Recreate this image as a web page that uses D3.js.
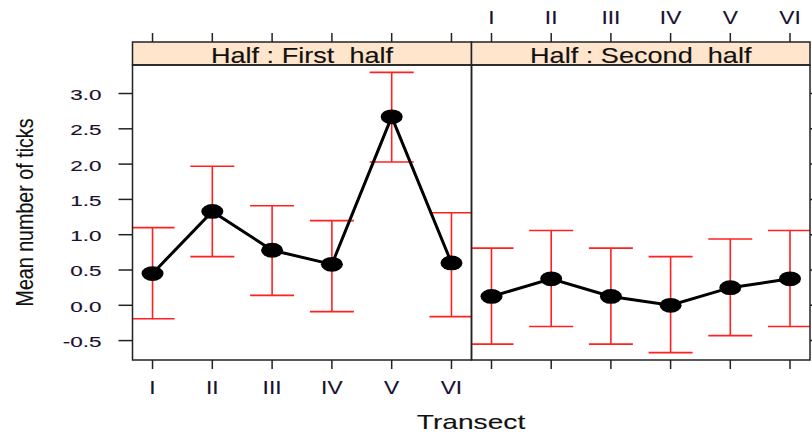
<!DOCTYPE html>
<html>
<head>
<meta charset="utf-8">
<script src="https://cdn.jsdelivr.net/npm/d3@7"></script>
<style>
  body { margin: 0; background: #fff; }
  svg { display: block; font-family: "Liberation Sans", Arial, sans-serif; }
  text { stroke-width: 0.12px; }
</style>
</head>
<body>
<svg id="chart" width="812" height="434"></svg>
<script>
// data
var transects = ["I", "II", "III", "IV", "V", "VI"];
var halves = ["First  half", "Second  half"];
var meanFirst = [0.45, 1.33, 0.78, 0.58, 2.67, 0.60];
var lowerFirst = [-0.19, 0.69, 0.14, -0.09, 2.03, -0.16];
var upperFirst = [1.10, 1.97, 1.41, 1.20, 3.30, 1.31];
var meanSecond = [0.125, 0.375, 0.125, 0.0, 0.25, 0.375];
var lowerSecond = [-0.55, -0.30, -0.55, -0.67, -0.43, -0.30];
var upperSecond = [0.81, 1.06, 0.81, 0.69, 0.94, 1.06];
var yTicks = [-0.5, 0, 0.5, 1, 1.5, 2, 2.5, 3];

var series = [
  {name: halves[0], mean: meanFirst, lo: lowerFirst, hi: upperFirst},
  {name: halves[1], mean: meanSecond, lo: lowerSecond, hi: upperSecond}
];

var svg = d3.select("#chart");
var panelTop = 65, panelBottom = 360, stripTop = 42;
var edges = [132.5, 471.5, 810];

var y = d3.scaleLinear().domain([-0.775, 3.404]).range([panelBottom, panelTop]);

// the picture is stretched sideways, so text gets widened to match
function stretch(sel, k) {
  sel.each(function() {
    var w = this.getComputedTextLength();
    d3.select(this).attr("textLength", w * k).attr("lengthAdjust", "spacingAndGlyphs");
  });
}

series.forEach(function(s, p) {
  var x0 = edges[p], x1 = edges[p + 1];
  var x = d3.scalePoint().domain(transects).range([x0, x1]).padding(0.335);
  var g = svg.append("g");

  var clipId = "clip" + p;
  svg.append("clipPath").attr("id", clipId)
    .append("rect").attr("x", x0).attr("y", panelTop).attr("width", x1 - x0).attr("height", panelBottom - panelTop);

  var plot = g.append("g").attr("clip-path", "url(#" + clipId + ")");
  var rows = transects.map(function(t, i) {
    return {t: t, m: s.mean[i], lo: s.lo[i], hi: s.hi[i]};
  });

  // error bars
  var eb = plot.selectAll(".eb").data(rows).enter().append("g")
    .style("stroke", "#ff2020").style("stroke-width", 1.6).style("fill", "none");
  eb.append("line")
    .attr("x1", function(d) { return x(d.t); }).attr("x2", function(d) { return x(d.t); })
    .attr("y1", function(d) { return y(d.lo); }).attr("y2", function(d) { return y(d.hi); });
  eb.append("line")
    .attr("x1", function(d) { return x(d.t) - 22; }).attr("x2", function(d) { return x(d.t) + 22; })
    .attr("y1", function(d) { return y(d.hi); }).attr("y2", function(d) { return y(d.hi); });
  eb.append("line")
    .attr("x1", function(d) { return x(d.t) - 22; }).attr("x2", function(d) { return x(d.t) + 22; })
    .attr("y1", function(d) { return y(d.lo); }).attr("y2", function(d) { return y(d.lo); });

  // mean line and points
  plot.append("path").datum(rows)
    .attr("d", d3.line().x(function(d) { return x(d.t); }).y(function(d) { return y(d.m); }))
    .style("fill", "none").style("stroke", "#000").style("stroke-width", 3);
  plot.selectAll(".pt").data(rows).enter().append("ellipse")
    .attr("cx", function(d) { return x(d.t); }).attr("cy", function(d) { return y(d.m); })
    .attr("rx", 11).attr("ry", 7.4).style("fill", "#000");

  // ticks top and bottom
  var tk = g.append("g").style("stroke", "#222").style("stroke-width", 1.5);
  tk.selectAll(".tb").data(transects).enter().append("line")
    .attr("x1", function(d) { return x(d); }).attr("x2", function(d) { return x(d); })
    .attr("y1", panelBottom).attr("y2", panelBottom + 9);
  tk.selectAll(".tt").data(transects).enter().append("line")
    .attr("x1", function(d) { return x(d); }).attr("x2", function(d) { return x(d); })
    .attr("y1", stripTop).attr("y2", stripTop - 9);

  // tick labels: bottom on the first panel, top on the second
  var lab = g.selectAll(".xl").data(transects).enter().append("text")
    .attr("x", function(d) { return x(d); })
    .attr("y", p === 0 ? 393.5 : 24)
    .attr("text-anchor", "middle")
    .style("font-size", "17.5px").style("fill", "#1a1030").style("stroke", "#1a1030")
    .text(function(d) { return d; });
  stretch(lab, 1.3);

  // strip
  g.append("rect").attr("x", x0).attr("y", stripTop).attr("width", x1 - x0).attr("height", panelTop - stripTop)
    .style("fill", "#ffe5cc").style("stroke", "#222").style("stroke-width", 1.5);
  var st = g.append("text")
    .attr("x", (x0 + x1) / 2).attr("y", 62.5)
    .attr("text-anchor", "middle")
    .style("font-size", "21.5px").style("fill", "#111").style("stroke", "#111").style("white-space", "pre")
    .text("Half : " + s.name);
  stretch(st, 1.26);

  // panel frame
  g.append("rect").attr("x", x0).attr("y", panelTop).attr("width", x1 - x0).attr("height", panelBottom - panelTop)
    .style("fill", "none").style("stroke", "#222").style("stroke-width", 1.5);
});

// y axis ticks: labelled on the left, bare on the right
var yt = svg.append("g").style("stroke", "#222").style("stroke-width", 1.5);
yt.selectAll(".yl").data(yTicks).enter().append("line")
  .attr("x1", edges[0] - 14).attr("x2", edges[0])
  .attr("y1", function(d) { return y(d); }).attr("y2", function(d) { return y(d); });
yt.selectAll(".yr").data(yTicks).enter().append("line")
  .attr("x1", edges[2]).attr("x2", edges[2] + 14)
  .attr("y1", function(d) { return y(d); }).attr("y2", function(d) { return y(d); });

var ylab = svg.selectAll(".ylab").data(yTicks).enter().append("text")
  .attr("x", 101.5)
  .attr("y", function(d) { return y(d) + 1.5; })
  .attr("text-anchor", "end").attr("dominant-baseline", "central")
  .style("font-size", "14.5px").style("fill", "#1a1030").style("stroke", "#1a1030")
  .text(function(d) { return d.toFixed(1); });
stretch(ylab, 1.55);

// axis titles
var xt = svg.append("text")
  .attr("x", 471).attr("y", 428.5).attr("text-anchor", "middle")
  .style("font-size", "21px").style("fill", "#111").style("stroke", "#111")
  .text("Transect");
stretch(xt, 1.34);

var ytt = svg.append("text")
  .attr("transform", "translate(33,212.5) rotate(-90)")
  .attr("text-anchor", "middle")
  .style("font-size", "24.5px").style("fill", "#111").style("stroke", "#111")
  .text("Mean number of ticks");
ytt.attr("textLength", 188).attr("lengthAdjust", "spacingAndGlyphs");
</script>
</body>
</html>
